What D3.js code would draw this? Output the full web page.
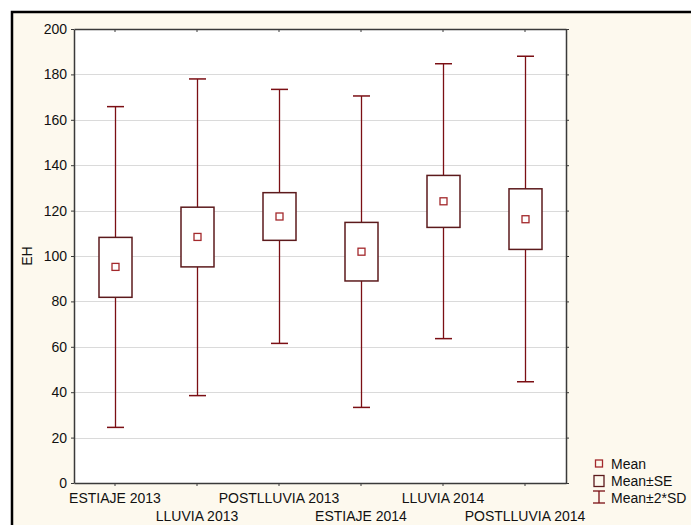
<!DOCTYPE html>
<html>
<head>
<meta charset="utf-8">
<script src="https://cdn.jsdelivr.net/npm/d3@7"></script>
<style>
  html, body { margin: 0; padding: 0; background: #ffffff; }
  svg { display: block; }
  text { font-family: "Liberation Sans", Arial, sans-serif; }
</style>
</head>
<body>
<script>
// ---- data ----
const categories = ["ESTIAJE 2013", "LLUVIA 2013", "POSTLLUVIA 2013", "ESTIAJE 2014", "LLUVIA 2014", "POSTLLUVIA 2014"];
const means   = [95.2, 108.4, 117.4, 101.9, 124.1, 116.2];
const seLow   = [81.8, 95.2, 106.9, 89.0, 112.6, 102.9];
const seHigh  = [108.2, 121.5, 127.9, 114.8, 135.5, 129.6];
const sdLow   = [24.5, 38.5, 61.5, 33.3, 63.6, 44.6];
const sdHigh  = [165.8, 178.0, 173.4, 170.5, 184.7, 188.0];
const yTicks  = [0, 20, 40, 60, 80, 100, 120, 140, 160, 180, 200];
const yLabel  = "EH";
const legendLabels = ["Mean", "Mean±SE", "Mean±2*SD"];

const W = 691, H = 525;
const plot = { left: 74, right: 566, top: 29, bottom: 483 };
const whiskerColor = "#7b0f14";
const boxColor = "#5c1a1c";
const meanColor = "#a3282c";

const svg = d3.select("body").append("svg").attr("width", W).attr("height", H);

// outer frame
svg.append("rect").attr("x", 12).attr("y", 12).attr("width", W + 10).attr("height", H + 10)
  .attr("fill", "#fdf9ee").attr("stroke", "#000").attr("stroke-width", 2.5);

// plot background
svg.append("rect").attr("x", plot.left).attr("y", plot.top)
  .attr("width", plot.right - plot.left).attr("height", plot.bottom - plot.top).attr("fill", "#fff");

const x = d3.scaleBand().domain(categories).range([plot.left, plot.right]);
const y = d3.scaleLinear().domain([0, 200]).range([plot.bottom, plot.top]);

// gridlines
svg.append("g").selectAll("line").data(yTicks.filter(t => t > 0 && t < 200)).join("line")
  .attr("x1", plot.left).attr("x2", plot.right)
  .attr("y1", d => Math.round(y(d)) + 0.5).attr("y2", d => Math.round(y(d)) + 0.5)
  .attr("stroke", "#dadada").attr("stroke-width", 1);

// axes
const axisColor = "#3a3a3a";
const yAxis = svg.append("g").attr("transform", `translate(${plot.left},0)`)
  .call(d3.axisLeft(y).tickValues(yTicks).tickSize(3).tickSizeOuter(0).tickPadding(4));
const yAxisR = svg.append("g").attr("transform", `translate(${plot.right},0)`)
  .call(d3.axisRight(y).tickValues(yTicks).tickSize(3).tickSizeOuter(0).tickFormat(""));
const xAxisB = svg.append("g").attr("transform", `translate(0,${plot.bottom})`)
  .call(d3.axisBottom(x).tickSize(3).tickSizeOuter(0).tickFormat(""));
const xAxisT = svg.append("g").attr("transform", `translate(0,${plot.top})`)
  .call(d3.axisBottom(x).tickSize(3).tickSizeOuter(0).tickFormat(""));

[yAxis, yAxisR, xAxisB, xAxisT].forEach(g => {
  g.select(".domain").attr("stroke", axisColor).attr("stroke-width", 1.5);
  g.selectAll(".tick line").attr("stroke", axisColor);
});
yAxis.selectAll("text").attr("font-size", 14).attr("fill", "#111")
  .attr("font-family", "Liberation Sans, Arial, sans-serif");

// x labels alternating rows
svg.append("g").selectAll("text").data(categories).join("text")
  .attr("x", d => x(d) + x.bandwidth() / 2)
  .attr("y", (d, i) => i % 2 === 0 ? 503 : 521)
  .attr("text-anchor", "middle").attr("font-size", 14).attr("fill", "#111")
  .text(d => d);

// y label
svg.append("text").attr("transform", "translate(32,256) rotate(-90)")
  .attr("text-anchor", "middle").attr("font-size", 14).attr("fill", "#111").text(yLabel);

// data marks
const capHalf = 8.5, boxHalf = 16.5, meanHalf = 3.5;
const g = svg.append("g");
categories.forEach((c, i) => {
  const cx = Math.round(x(c) + x.bandwidth() / 2) + 0.5;
  // whisker
  g.append("line").attr("x1", cx).attr("x2", cx).attr("y1", y(sdLow[i])).attr("y2", y(sdHigh[i]))
    .attr("stroke", whiskerColor).attr("stroke-width", 1.3);
  [sdLow[i], sdHigh[i]].forEach(v => {
    g.append("line").attr("x1", cx - capHalf).attr("x2", cx + capHalf).attr("y1", y(v)).attr("y2", y(v))
      .attr("stroke", whiskerColor).attr("stroke-width", 1.5);
  });
  // SE box
  g.append("rect").attr("x", cx - boxHalf).attr("y", y(seHigh[i]))
    .attr("width", boxHalf * 2).attr("height", y(seLow[i]) - y(seHigh[i]))
    .attr("fill", "#fff").attr("stroke", boxColor).attr("stroke-width", 1.5);
  // mean
  g.append("rect").attr("x", cx - meanHalf).attr("y", y(means[i]) - meanHalf)
    .attr("width", meanHalf * 2).attr("height", meanHalf * 2)
    .attr("fill", "none").attr("stroke", meanColor).attr("stroke-width", 1.3);
});

// legend
const lg = svg.append("g");
const lx = 599;
lg.append("rect").attr("x", lx - 3.5).attr("y", 460).attr("width", 7).attr("height", 7)
  .attr("fill", "none").attr("stroke", meanColor).attr("stroke-width", 1.3);
lg.append("rect").attr("x", lx - 5).attr("y", 475.5).attr("width", 10).attr("height", 11)
  .attr("fill", "none").attr("stroke", boxColor).attr("stroke-width", 1.3);
lg.append("line").attr("x1", lx).attr("x2", lx).attr("y1", 491).attr("y2", 503)
  .attr("stroke", whiskerColor).attr("stroke-width", 1.3);
[491, 503].forEach(yy => lg.append("line").attr("x1", lx - 6).attr("x2", lx + 6)
  .attr("y1", yy).attr("y2", yy).attr("stroke", whiskerColor).attr("stroke-width", 1.3));
lg.selectAll("text.lab").data(legendLabels).join("text")
  .attr("x", 611).attr("y", (d, i) => 469 + i * 17)
  .attr("font-size", 14).attr("fill", "#111").text(d => d);
</script>
</body>
</html>
